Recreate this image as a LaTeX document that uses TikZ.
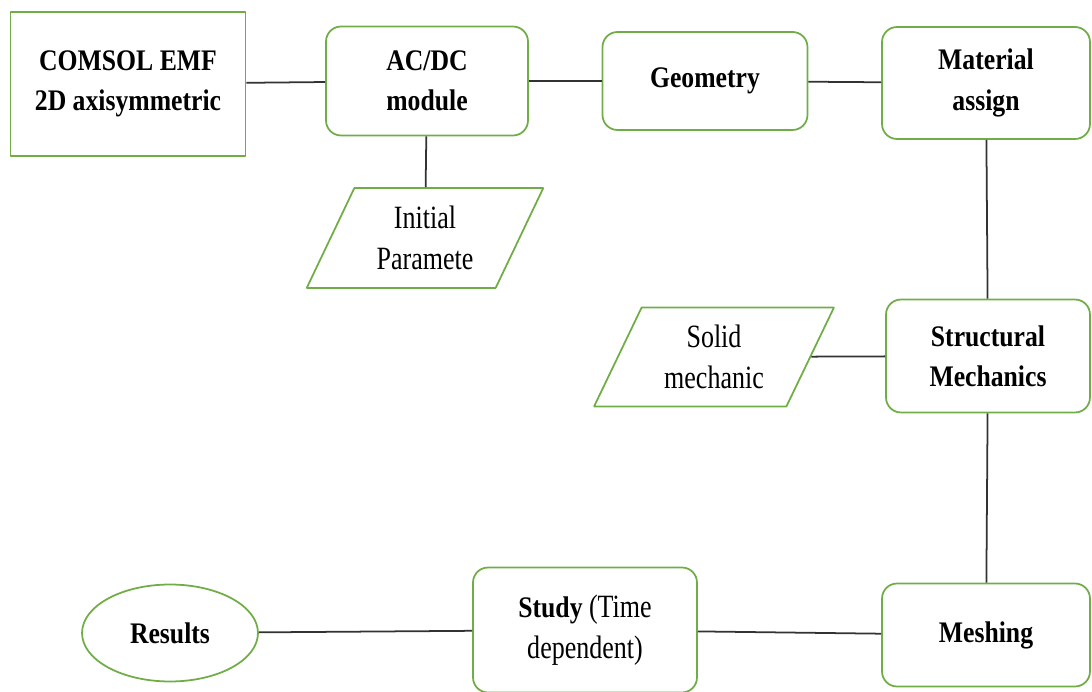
\documentclass[tikz,border=0pt]{standalone}
\usepackage{fontspec}
\setmainfont{Liberation Serif}
\newfontfamily\narrowserif{Liberation Serif}[FakeStretch=0.8]
\newfontfamily\narrowbold{Liberation Serif Bold}[FakeStretch=0.86]
\usetikzlibrary{shapes.geometric}

\definecolor{boxgreen}{RGB}{112,173,71}
\definecolor{linkgray}{RGB}{50,50,50}

\begin{document}
\begin{tikzpicture}[x=0.02cm, y=-0.02cm, line join=bevel,
    box/.style={draw=boxgreen, line width=1pt, align=center, inner sep=2pt,
      font=\narrowbold\fontsize{17}{23}\selectfont},
    stepbox/.style={box, rounded corners=0.3cm},
    inputbox/.style={draw=boxgreen, line width=1pt, align=center,
      trapezium, trapezium left angle=64, trapezium right angle=116,
      trapezium stretches=true,
      font=\narrowserif\fontsize{18.5}{23}\selectfont},
    link/.style={draw=linkgray, line width=1pt}]
  \useasboundingbox (0,0) rectangle (1092,692);

  \node[box, minimum width=4.7cm, minimum height=2.88cm] (comsol) at (128,84)
    {COMSOL EMF\\2D axisymmetric};
  \node[stepbox, minimum width=4.04cm, minimum height=2.18cm] (acdc) at (427,81)
    {AC/DC\\module};
  \node[stepbox, minimum width=4.1cm, minimum height=1.96cm] (geometry) at (705,81)
    {Geometry};
  \node[stepbox, minimum width=4.16cm, minimum height=2.24cm] (material) at (986,83)
    {Material\\assign};
  \node[inputbox, minimum width=4.74cm, minimum height=2cm] (initial) at (425,238)
    {Initial\\Paramete};
  \node[inputbox, minimum width=4.8cm, minimum height=1.98cm] (solid) at (714,357)
    {Solid\\mechanic};
  \node[stepbox, minimum width=4.08cm, minimum height=2.26cm] (structural) at (988,356)
    {Structural\\Mechanics};
  \node[stepbox, minimum width=4.16cm, minimum height=2.06cm] (meshing) at (986,635)
    {Meshing};
  \node[stepbox, minimum width=4.48cm, minimum height=2.5cm] (study) at (585,630)
    {Study {\narrowserif\fontsize{18.5}{23}\selectfont(Time}\\
     {\narrowserif\fontsize{18.5}{23}\selectfont dependent)}};
  \node[box, ellipse, minimum width=3.52cm, minimum height=1.94cm] (results) at (170,633)
    {Results};

  % links between the steps
  \path[link] (comsol) -- (acdc);
  \path[link] (acdc) -- (geometry);
  \path[link] (geometry) -- (material);
  \path[link] (acdc) -- (initial);
  \path[link] (material) -- (structural);
  \path[link] (solid) -- (structural);
  \path[link] (structural) -- (meshing);
  \path[link] (meshing) -- (study);
  \path[link] (study) -- (results);
\end{tikzpicture}
\end{document}
